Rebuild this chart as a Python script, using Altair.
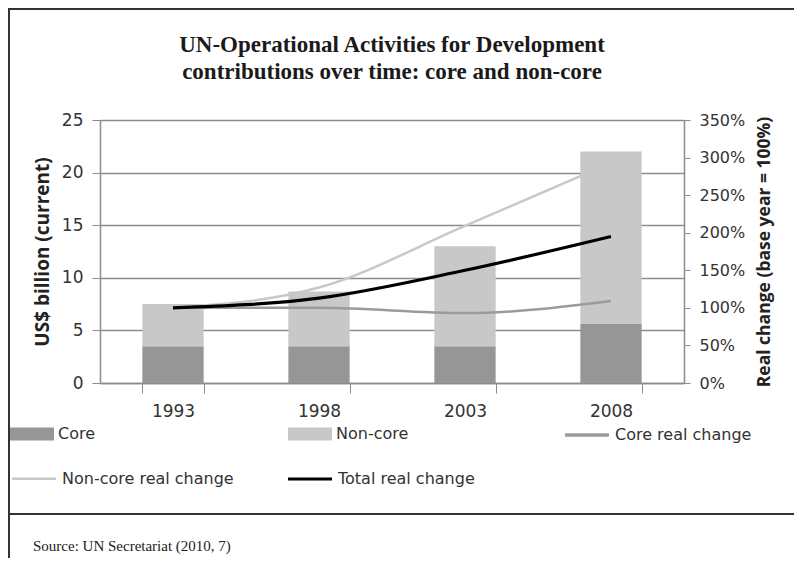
import altair as alt
import pandas as pd

# ---------------- data ----------------
years = ["1993", "1998", "2003", "2008"]
core = [3.5, 3.5, 3.5, 5.6]              # US$ billion
non_core = [4.0, 5.2, 9.5, 16.4]         # US$ billion (stacked on core)
core_real = [1.00, 1.00, 0.93, 1.09]     # real change, base year = 100%
non_core_real = [1.00, 1.27, 2.09, 2.93]
total_real = [1.00, 1.13, 1.50, 1.95]

bar_series = ["Core", "Non-core"]
line_series = ["Core real change", "Non-core real change", "Total real change"]
left_ticks = [0, 5, 10, 15, 20, 25]
right_ticks = [0, 0.5, 1.0, 1.5, 2.0, 2.5, 3.0, 3.5]
title_lines = ["UN-Operational Activities for Development",
               "contributions over time: core and non-core"]
source_text = "Source: UN Secretariat (2010, 7)"

bars_df = pd.DataFrame({
    "year": years * 2,
    "series": [bar_series[0]] * 4 + [bar_series[1]] * 4,
    "value": core + non_core,
    "order": [0] * 4 + [1] * 4,
})
core_line_df = pd.DataFrame({"year": years, "series": [line_series[0]] * 4, "value": core_real})
other_lines_df = pd.DataFrame({
    "year": years * 2,
    "series": [line_series[1]] * 4 + [line_series[2]] * 4,
    "value": non_core_real + total_real,
})
source_df = pd.DataFrame({"t": [source_text]})
frame_df = pd.DataFrame({"k": [0]})

GRID = "#8c8c8c"
SANS = "DejaVu Sans"
TITLE_SANS = "Open Sans"
SERIF = "Liberation Serif"

x_enc = alt.X(
    "year:N", title=None, sort=years,
    scale=alt.Scale(paddingInner=0.58, paddingOuter=0.29),
    axis=alt.Axis(labelAngle=0, labelFont=SANS, labelFontSize=17, labelColor="#333",
                  tickBand="extent", tickSize=10, tickColor=GRID, domainColor=GRID,
                  domainWidth=1.5, labelPadding=10),
)

y_right = alt.Y(
    "value:Q", title="Real change (base year = 100%)",
    scale=alt.Scale(domain=[0, 3.5], nice=False, zero=True),
    axis=alt.Axis(orient="right", values=right_ticks, format="%", grid=False,
                  labelFont=SANS, labelFontSize=16, labelColor="#333",
                  tickSize=6, tickColor=GRID, domainColor=GRID, domainWidth=1.5,
                  labelPadding=9, titleFont=TITLE_SANS, titleFontSize=17.5,
                  titleFontWeight="bold", titleColor="#222", titleAngle=270,
                  titlePadding=29),
)

bars = alt.Chart(bars_df).mark_bar(stroke=None).encode(
    x=x_enc,
    y=alt.Y("value:Q", stack="zero", title="US$ billion (current)",
            scale=alt.Scale(domain=[0, 25], nice=False),
            axis=alt.Axis(orient="left", values=left_ticks, grid=True, gridColor=GRID,
                          gridWidth=1.3, labelFont=SANS, labelFontSize=17,
                          labelColor="#333", tickSize=8, tickColor=GRID,
                          domainColor=GRID, domainWidth=1.5, labelPadding=9,
                          titleFont=TITLE_SANS, titleFontSize=19, titleFontWeight="bold",
                          titleColor="#222", titlePadding=9)),
    fill=alt.Fill("series:N", scale=alt.Scale(domain=bar_series, range=["#969696", "#c8c8c8"]),
                  legend=alt.Legend(orient="none", legendX=-90, legendY=292, title=None,
                                    columns=2, columnPadding=192, padding=0,
                                    symbolType="M-1,-0.3H1V0.3H-1Z", symbolSize=1936,
                                    symbolStrokeWidth=0, labelFont=SANS, labelFontSize=16,
                                    labelColor="#333", labelOffset=4, labelLimit=300)),
    order=alt.Order("order:Q"),
)

core_line = alt.Chart(core_line_df).mark_line(strokeWidth=2.5, interpolate="monotone").encode(
    x=x_enc,
    y=y_right,
    stroke=alt.Stroke("series:N", scale=alt.Scale(domain=[line_series[0]], range=["#9b9b9b"]),
                      legend=alt.Legend(orient="none", legendX=463, legendY=291, title=None,
                                        padding=0, symbolType="stroke", symbolSize=1936,
                                        symbolStrokeWidth=3.5, labelFont=SANS, labelFontSize=16,
                                        labelColor="#333", labelOffset=4, labelLimit=300)),
)

other_lines = alt.Chart(other_lines_df).mark_line(interpolate="monotone").encode(
    x=x_enc,
    y=y_right,
    color=alt.Color("series:N",
                    scale=alt.Scale(domain=line_series[1:], range=["#c8c8c8", "#000000"]),
                    legend=alt.Legend(orient="none", legendX=-90, legendY=335, title=None,
                                      columns=2, columnPadding=47, padding=0,
                                      symbolType="stroke", symbolSize=1936,
                                      symbolStrokeWidth=4, labelFont=SANS, labelFontSize=16,
                                      labelColor="#333", labelOffset=4, labelLimit=300)),
    strokeWidth=alt.StrokeWidth("series:N",
                                scale=alt.Scale(domain=line_series[1:], range=[2.5, 3.2]),
                                legend=None),
)

lines = alt.layer(core_line, other_lines)

title = alt.Chart(frame_df).mark_text(
    align="center", baseline="middle", font=SERIF, fontSize=23, fontWeight="bold",
    color="#1a1a1a", text=title_lines, lineHeight=27
).encode(
    x=alt.value(292),
    y=alt.value(-75),
)

source = alt.Chart(source_df).mark_text(
    align="left", baseline="middle", font=SERIF, fontSize=15, color="#222"
).encode(x=alt.value(-67), y=alt.value(426), text="t:N")

top_border = alt.Chart(frame_df).mark_rule(color="#333", strokeWidth=2).encode(
    x=alt.value(-92), x2=alt.value(694), y=alt.value(-111))
left_border = alt.Chart(frame_df).mark_rule(color="#333", strokeWidth=2).encode(
    x=alt.value(-91), y=alt.value(-112), y2=alt.value(445))
separator = alt.Chart(frame_df).mark_rule(color="#333", strokeWidth=2).encode(
    x=alt.value(-92), x2=alt.value(694), y=alt.value(394))

chart = alt.layer(bars, lines, title, source, top_border, left_border, separator).resolve_scale(
    y="independent"
).properties(
    width=584, height=263,
    autosize=alt.AutoSizeParams(type="none"),
    padding={"left": 92, "top": 112, "right": 110, "bottom": 175},
).configure_view(stroke=None)

chart.save("out.html", embed_options={"renderer": "svg", "actions": False})
